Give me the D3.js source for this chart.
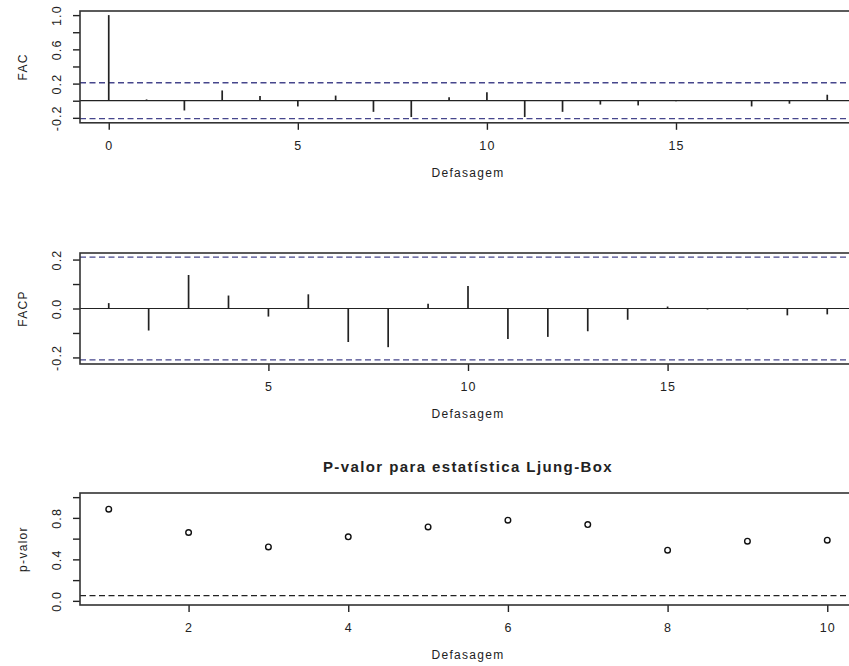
<!DOCTYPE html>
<html>
<head>
<meta charset="utf-8">
<script src="https://cdn.jsdelivr.net/npm/d3@7"></script>
<style>
  html, body { margin: 0; padding: 0; background: #fff; }
  svg { display: block; }
  text { font-family: "Liberation Sans", Arial, sans-serif; fill: #222; }
</style>
</head>
<body>
<script>
// Residual diagnostics: ACF, PACF and Ljung-Box p-values
const acfLags = d3.range(0, 20);
const acfValues = [1.0, 0.015, -0.114, 0.12, 0.055, -0.067, 0.06, -0.13, -0.19, 0.04,
                   0.10, -0.19, -0.13, -0.045, -0.055, -0.005, 0.005, -0.067, -0.035, 0.07];
const pacfLags = d3.range(1, 20);
const pacfValues = [0.022, -0.09, 0.137, 0.053, -0.033, 0.058, -0.137, -0.158, 0.019, 0.092,
                    -0.125, -0.116, -0.093, -0.046, 0.008, -0.004, -0.004, -0.028, -0.024];
const lbLags = d3.range(1, 11);
const lbPvalues = [0.884, 0.659, 0.520, 0.617, 0.713, 0.778, 0.736, 0.489, 0.575, 0.585];

const confLimit = 0.21;      // approximate 95% band for the sample correlations
const pLevel = 0.05;         // significance level for the Ljung-Box test

const acfXTicks = [0, 5, 10, 15];
const acfYTicks = [-0.2, 0, 0.2, 0.4, 0.6, 0.8, 1.0];
const acfYLabels = ["-0.2", "", "0.2", "", "0.6", "", "1.0"];
const pacfXTicks = [5, 10, 15];
const pacfYTicks = [-0.2, -0.1, 0, 0.1, 0.2];
const pacfYLabels = ["-0.2", "", "0.0", "", "0.2"];
const lbXTicks = [2, 4, 6, 8, 10];
const lbYTicks = [0, 0.2, 0.4, 0.6, 0.8, 1.0];
const lbYLabels = ["0.0", "", "0.4", "", "0.8", ""];

const xLabel = "Defasagem";
const lbTitle = "P-valor para estatística Ljung-Box";

const W = 849, H = 666;
const svg = d3.select("body").append("svg").attr("width", W).attr("height", H);

const left = 80, right = 856;
const lineCol = "#222";
const ciCol = "#46468c";

function panel(cfg) {
  const g = svg.append("g");
  const x = d3.scaleLinear().domain(cfg.xDomain).range([left, right]);
  const y = d3.scaleLinear().domain(cfg.yDomain).range([cfg.bottom, cfg.top]);

  // x axis
  const xa = g.append("g").attr("transform", `translate(0,${cfg.bottom})`)
    .call(d3.axisBottom(x).tickValues(cfg.xTicks).tickSize(7).tickSizeOuter(0)
      .tickFormat(d3.format("d")));
  xa.select(".domain").remove();
  xa.selectAll(".tick line").attr("stroke", lineCol).attr("stroke-width", 1.4);
  xa.selectAll(".tick text").attr("y", 27).attr("dy", 0)
    .attr("font-size", 12.5).attr("letter-spacing", "1.1px").attr("fill", "#222");

  // y axis with rotated labels
  const ya = g.append("g").attr("transform", `translate(${left},0)`)
    .call(d3.axisLeft(y).tickValues(cfg.yTicks).tickSize(7).tickSizeOuter(0)
      .tickFormat((d, i) => cfg.yLabels[i]));
  ya.select(".domain").remove();
  ya.selectAll(".tick line").attr("stroke", lineCol).attr("stroke-width", 1.4);
  ya.selectAll(".tick text").attr("x", 0).attr("y", 0).attr("dy", 0)
    .attr("text-anchor", "middle")
    .attr("transform", "translate(-19,0) rotate(-90)")
    .attr("font-size", 12.5).attr("letter-spacing", "1.1px").attr("fill", "#222");

  // axis titles
  g.append("text").attr("x", (left + right) / 2).attr("y", cfg.bottom + 54)
    .attr("text-anchor", "middle").attr("font-size", 12).attr("letter-spacing", "1.3px")
    .text(xLabel);
  g.append("text")
    .attr("transform", `translate(27,${(cfg.top + cfg.bottom) / 2}) rotate(-90)`)
    .attr("text-anchor", "middle").attr("font-size", 12).attr("letter-spacing", "1.3px")
    .text(cfg.yTitle);

  return { g, x, y };
}

function box(p, cfg) {
  p.g.append("rect").attr("x", left).attr("y", cfg.top)
    .attr("width", right - left).attr("height", cfg.bottom - cfg.top)
    .attr("fill", "none").attr("stroke", "#333").attr("stroke-width", 1.6);
}

function correlogram(cfg, lags, vals) {
  const p = panel(cfg);
  const { g, x, y } = p;
  // zero line
  g.append("line").attr("x1", left).attr("x2", right)
    .attr("y1", y(0)).attr("y2", y(0)).attr("stroke", lineCol).attr("stroke-width", 1.2);
  // confidence band
  [confLimit, -confLimit].forEach(c => {
    g.append("line").attr("x1", left).attr("x2", right)
      .attr("y1", y(c)).attr("y2", y(c))
      .attr("stroke", ciCol).attr("stroke-width", 1.3).attr("stroke-dasharray", "6,3.5");
  });
  // spikes
  g.selectAll(".spike").data(lags).join("line").attr("class", "spike")
    .attr("x1", d => x(d)).attr("x2", d => x(d))
    .attr("y1", y(0)).attr("y2", (d, i) => y(vals[i]))
    .attr("stroke", lineCol).attr("stroke-width", 1.7);
  box(p, cfg);
}

// FAC
correlogram({
  top: 11, bottom: 122.8,
  xDomain: [-0.76, 19.76], yDomain: [-0.258, 1.048],
  xTicks: acfXTicks, yTicks: acfYTicks, yLabels: acfYLabels, yTitle: "FAC"
}, acfLags, acfValues);

// FACP
correlogram({
  top: 253, bottom: 364,
  xDomain: [0.28, 19.72], yDomain: [-0.2268, 0.2268],
  xTicks: pacfXTicks, yTicks: pacfYTicks, yLabels: pacfYLabels, yTitle: "FACP"
}, pacfLags, pacfValues);

// Ljung-Box p-values
const lbCfg = {
  top: 493, bottom: 605,
  xDomain: [0.64, 10.36], yDomain: [-0.04, 1.04],
  xTicks: lbXTicks, yTicks: lbYTicks, yLabels: lbYLabels, yTitle: "p-valor"
};
const lb = panel(lbCfg);
lb.g.append("line").attr("x1", left).attr("x2", right)
  .attr("y1", lb.y(pLevel)).attr("y2", lb.y(pLevel))
  .attr("stroke", "#222").attr("stroke-width", 1.3).attr("stroke-dasharray", "6,3.5");
lb.g.selectAll("circle").data(lbLags).join("circle")
  .attr("cx", d => lb.x(d)).attr("cy", (d, i) => lb.y(lbPvalues[i]))
  .attr("r", 2.8).attr("fill", "none").attr("stroke", "#111").attr("stroke-width", 1.4);
box(lb, lbCfg);
lb.g.append("text").attr("x", (left + right) / 2).attr("y", 472)
  .attr("text-anchor", "middle").attr("font-size", 15).attr("font-weight", "bold")
  .attr("letter-spacing", "1.4px").text(lbTitle);
</script>
</body>
</html>
